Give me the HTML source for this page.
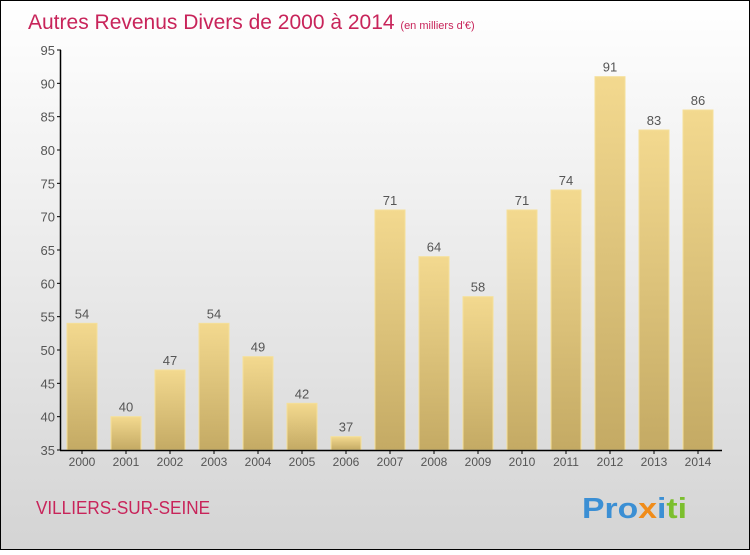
<!DOCTYPE html>
<html><head><meta charset="utf-8"><style>
body{margin:0}
svg text{font-family:"Liberation Sans",sans-serif}
</style></head><body>
<svg width="750" height="550" xmlns="http://www.w3.org/2000/svg">
<defs>
<linearGradient id="bg" x1="0" y1="0" x2="0" y2="1"><stop offset="0" stop-color="#ffffff"/><stop offset="1" stop-color="#d4d4d4"/></linearGradient>
<linearGradient id="bar" x1="0" y1="0" x2="0" y2="1"><stop offset="0" stop-color="#f3d98f"/><stop offset="1" stop-color="#c4aa64"/></linearGradient>
</defs>
<rect x="0.5" y="0.5" width="749" height="549" fill="url(#bg)" stroke="#000"/>
<text x="28" y="29" font-size="21" fill="#c8245a">Autres Revenus Divers de 2000 à 2014 <tspan font-size="11">(en milliers d'€)</tspan></text>
<g id="plot"></g>
<text x="36" y="514" font-size="18" fill="#c8245a" textLength="174" lengthAdjust="spacingAndGlyphs">VILLIERS-SUR-SEINE</text>
<text x="582" y="518" font-size="29" font-weight="bold" textLength="105" lengthAdjust="spacingAndGlyphs"><tspan fill="#3b8fd4">Pro</tspan><tspan fill="#f08c1a">x</tspan><tspan fill="#3b8fd4">i</tspan><tspan fill="#7cbf2e">ti</tspan></text>
</svg>
<script>
const categories=["2000","2001","2002","2003","2004","2005","2006","2007","2008","2009","2010","2011","2012","2013","2014"];
const values=[54,40,47,54,49,42,37,71,64,58,71,74,91,83,86];
const yTicks=[35,40,45,50,55,60,65,70,75,80,85,90,95];
const NS="http://www.w3.org/2000/svg";
const g=document.getElementById('plot');
const y=v=>450-(v-35)*400/60;
const x=i=>82+i*44;
function mk(t,a){const e=document.createElementNS(NS,t);for(const k in a)e.setAttribute(k,a[k]);g.appendChild(e);return e;}
yTicks.forEach(t=>{
 const l=mk('line',{x1:57,x2:61,y1:y(t),y2:y(t),stroke:'#000'});
 
 
 const tx=mk('text',{x:55,y:y(t)+5,'text-anchor':'end','font-size':13,fill:'#555'});
 tx.textContent=t;
 
 
});
categories.forEach((c,i)=>{
 const v=values[i];
 const r=mk('rect',{x:x(i)-15,y:y(v),width:30,height:450-y(v),fill:'url(#bar)',stroke:'#f5e09a','stroke-width':1});
 
 
 const vt=mk('text',{x:x(i),y:y(v)-5,'text-anchor':'middle','font-size':13,fill:'#555'});
 vt.textContent=v;
 
 
 const tk=mk('line',{x1:x(i),x2:x(i),y1:450,y2:454,stroke:'#000'});
 
 
 const ct=mk('text',{x:x(i),y:466,'text-anchor':'middle','font-size':12,fill:'#555'});
 ct.textContent=c;
 
 
});
const ya=mk('line',{x1:60.5,x2:60.5,y1:50,y2:450.5,stroke:'#000','stroke-width':1.5});


const xa=mk('line',{x1:60,x2:722,y1:450.5,y2:450.5,stroke:'#000','stroke-width':1.5});


</script>
</body></html>
